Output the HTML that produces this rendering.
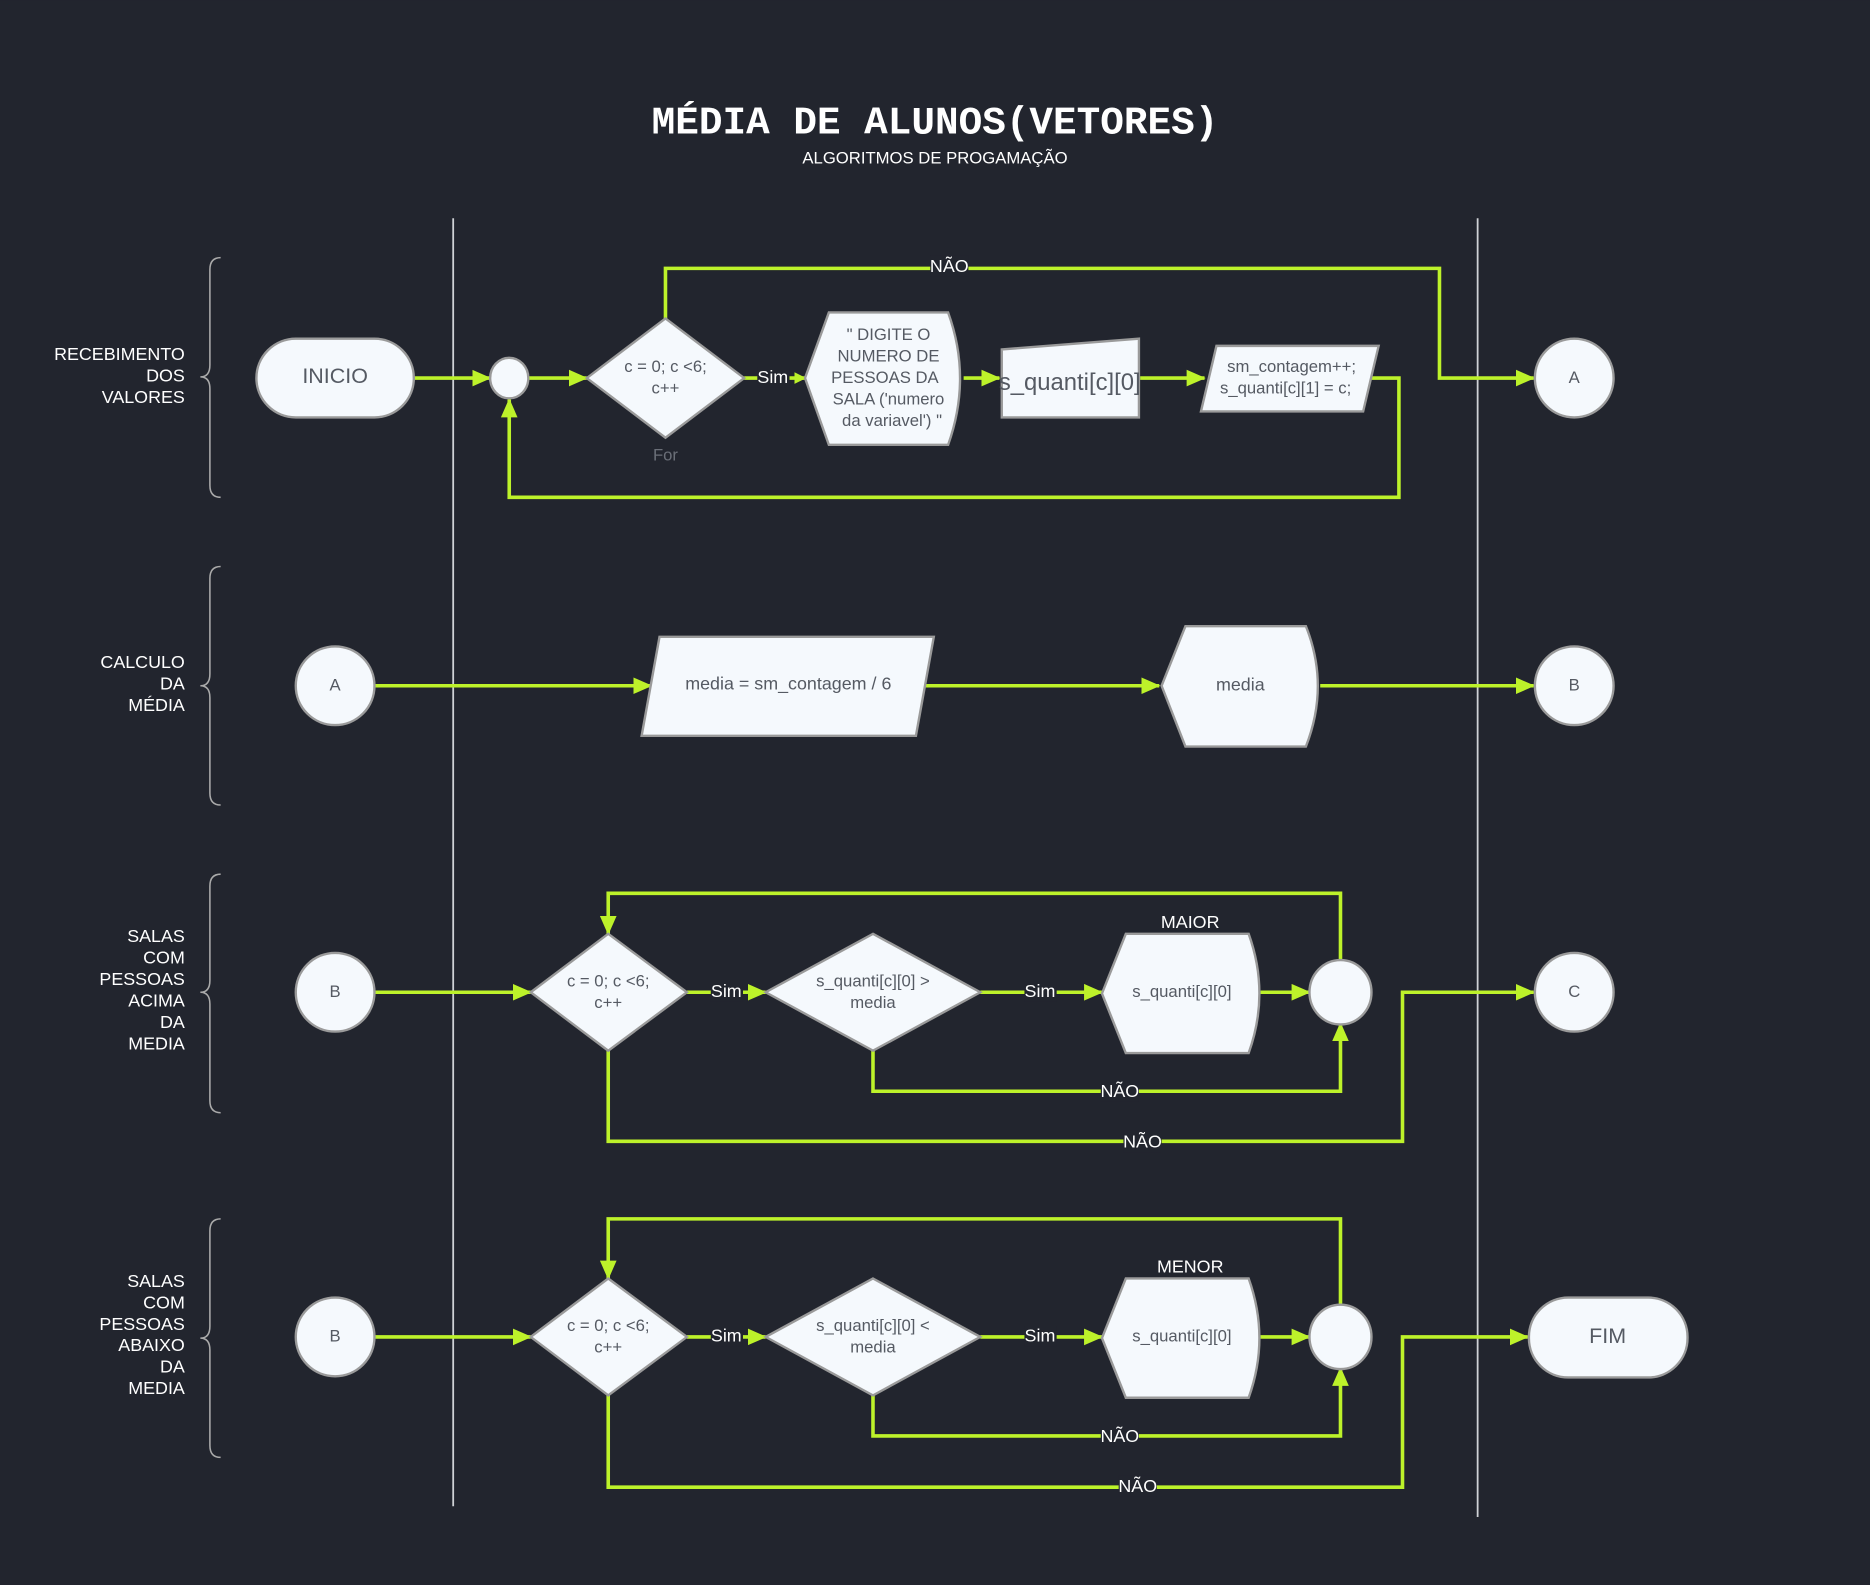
<!DOCTYPE html>
<html><head><meta charset="utf-8"><style>html,body{margin:0;padding:0;background:#22252e}svg{display:block}</style></head><body>
<svg width="1870" height="1585" viewBox="0 0 1568 1329" xmlns="http://www.w3.org/2000/svg" font-family="Liberation Sans, sans-serif">
<defs><marker id="a" markerWidth="10" markerHeight="10" refX="9" refY="5" orient="auto" markerUnits="userSpaceOnUse"><path d="M0,0 L10,5 L0,10 Z" fill="#bdf22a"/></marker>
<marker id="b" markerWidth="16" markerHeight="14" refX="15" refY="7" orient="auto" markerUnits="userSpaceOnUse"><path d="M0,0 L16,7 L0,14 Z" fill="#bdf22a"/></marker></defs>
<rect width="1568" height="1329" fill="#22252e"/>
<text x="784" y="112" text-anchor="middle" fill="#fff" font-family="Liberation Mono, monospace" font-weight="bold" font-size="33">MÉDIA DE ALUNOS(VETORES)</text>
<text x="784" y="137" text-anchor="middle" fill="#fff" font-size="14">ALGORITMOS DE PROGAMAÇÃO</text>
<g stroke="#cfd2d6" stroke-width="1.5"><line x1="380" y1="183" x2="380" y2="1263"/><line x1="1239" y1="183" x2="1239" y2="1272"/></g>
<g fill="none" stroke="#aaa" stroke-width="1.3">
<path d="M185,216 Q176,216 176,226 V306 Q176,316 168,316 Q176,316 176,326 V407 Q176,417 185,417"/>
<path d="M185,475 Q176,475 176,485 V565 Q176,575 168,575 Q176,575 176,585 V665 Q176,675 185,675"/>
<path d="M185,733 Q176,733 176,743 V822 Q176,832 168,832 Q176,832 176,842 V923 Q176,933 185,933"/>
<path d="M185,1022 Q176,1022 176,1032 V1112 Q176,1122 168,1122 Q176,1122 176,1132 V1212 Q176,1222 185,1222"/>
</g>
<g fill="#fff" font-size="15" text-anchor="end">
<text x="155" y="302">RECEBIMENTO</text><text x="155" y="320">DOS</text><text x="155" y="338">VALORES</text>
<text x="155" y="560">CALCULO</text><text x="155" y="578">DA</text><text x="155" y="596">MÉDIA</text>
<text x="155" y="790">SALAS</text><text x="155" y="808">COM</text><text x="155" y="826">PESSOAS</text><text x="155" y="844">ACIMA</text><text x="155" y="862">DA</text><text x="155" y="880">MEDIA</text>
<text x="155" y="1079">SALAS</text><text x="155" y="1097">COM</text><text x="155" y="1115">PESSOAS</text><text x="155" y="1133">ABAIXO</text><text x="155" y="1151">DA</text><text x="155" y="1169">MEDIA</text>
</g>
<!-- connectors -->
<g fill="none" stroke="#bdf22a" stroke-width="3">
<path d="M347,317 H411" marker-end="url(#b)"/>
<path d="M443,317 H492" marker-end="url(#b)"/>
<path d="M624,317 H675" marker-end="url(#a)"/>
<path d="M808,317 H838" marker-end="url(#b)"/>
<path d="M956,317 H1010" marker-end="url(#b)"/>
<path d="M1146,317 H1173 V417 H427 V335" marker-end="url(#b)"/>
<path d="M558,267 V225 H1207 V317 H1286" marker-end="url(#b)"/>
<path d="M314,575 H546" marker-end="url(#b)"/>
<path d="M775,575 H972" marker-end="url(#b)"/>
<path d="M1107,575 H1286" marker-end="url(#b)"/>
<path d="M314,832 H445" marker-end="url(#b)"/>
<path d="M576,832 H642" marker-end="url(#b)"/>
<path d="M822,832 H924" marker-end="url(#b)"/>
<path d="M1057,832 H1098" marker-end="url(#b)"/>
<path d="M1124,806 V749 H510 V783" marker-end="url(#b)"/>
<path d="M732,881 V915 H1124 V858" marker-end="url(#b)"/>
<path d="M510,881 V957 H1176 V832 H1286" marker-end="url(#b)"/>
<path d="M314,1121 H445" marker-end="url(#b)"/>
<path d="M576,1121 H642" marker-end="url(#b)"/>
<path d="M822,1121 H924" marker-end="url(#b)"/>
<path d="M1057,1121 H1098" marker-end="url(#b)"/>
<path d="M1124,1095 V1022 H510 V1072" marker-end="url(#b)"/>
<path d="M732,1170 V1204 H1124 V1147" marker-end="url(#b)"/>
<path d="M510,1170 V1247 H1176 V1121 H1281" marker-end="url(#b)"/>
</g>
<!-- edge labels -->
<g fill="#fff" font-size="15" text-anchor="middle">
<rect x="780" y="214" width="32" height="18" fill="#22252e"/><text x="796" y="228">NÃO</text>
<rect x="635" y="308" width="27" height="17" fill="#22252e"/><text x="648" y="321">Sim</text>
<rect x="596" y="823" width="27" height="17" fill="#22252e"/><text x="609" y="836">Sim</text>
<rect x="859" y="823" width="27" height="17" fill="#22252e"/><text x="872" y="836">Sim</text>
<rect x="923" y="906" width="32" height="18" fill="#22252e"/><text x="939" y="920">NÃO</text>
<rect x="942" y="948" width="32" height="18" fill="#22252e"/><text x="958" y="962">NÃO</text>
<text x="998" y="778">MAIOR</text>
<rect x="596" y="1112" width="27" height="17" fill="#22252e"/><text x="609" y="1125">Sim</text>
<rect x="859" y="1112" width="27" height="17" fill="#22252e"/><text x="872" y="1125">Sim</text>
<rect x="923" y="1195" width="32" height="18" fill="#22252e"/><text x="939" y="1209">NÃO</text>
<rect x="938" y="1237" width="32" height="18" fill="#22252e"/><text x="954" y="1251">NÃO</text>
<text x="998" y="1067">MENOR</text>
</g>
<!-- nodes -->
<g fill="#f5f9fd" stroke="#9a9a9a" stroke-width="2">
<rect x="215" y="284" width="132" height="66" rx="33"/>
<ellipse cx="427" cy="317" rx="16" ry="17"/>
<path d="M558,267 L624,317 L558,367 L492,317 Z"/>
<path d="M695,262 L795,262 Q815,317 795,373 L695,373 L675,317 Z"/>
<path d="M840,293 L955,284 L955,350 L840,350 Z"/>
<path d="M1020,290 L1156,290 L1143,345 L1007,345 Z"/>
<circle cx="1320" cy="317" r="33"/>
<circle cx="281" cy="575" r="33"/>
<path d="M553,534 L783,534 L768,617 L538,617 Z"/>
<path d="M994,525 L1095,525 Q1115,575 1095,626 L994,626 L974,575 Z"/>
<circle cx="1320" cy="575" r="33"/>
<circle cx="281" cy="832" r="33"/>
<path d="M510,783 L576,832 L510,881 L445,832 Z"/>
<path d="M732,783 L822,832 L732,881 L642,832 Z"/>
<path d="M944,783 L1047,783 Q1065,833 1047,883 L944,883 L924,833 Z"/>
<ellipse cx="1124" cy="832" rx="26" ry="27"/>
<circle cx="1320" cy="832" r="33"/>
<circle cx="281" cy="1121" r="33"/>
<path d="M510,1072 L576,1121 L510,1170 L445,1121 Z"/>
<path d="M732,1072 L822,1121 L732,1170 L642,1121 Z"/>
<path d="M944,1072 L1047,1072 Q1065,1122 1047,1172 L944,1172 L924,1122 Z"/>
<ellipse cx="1124" cy="1121" rx="26" ry="27"/>
<rect x="1282" y="1088" width="133" height="67" rx="33"/>
</g>
<g fill="#555a63" text-anchor="middle" font-size="14">
<text x="281" y="321" font-size="18">INICIO</text>
<text x="558" y="312">c = 0; c &lt;6;</text><text x="558" y="330">c++</text>
<text x="558" y="386" fill="#6b6f78">For</text>
<text x="745" y="285">" DIGITE  O</text><text x="745" y="303">NUMERO DE</text><text x="742" y="321">PESSOAS DA</text><text x="745" y="339">SALA ('numero</text><text x="748" y="357">da variavel') "</text>
<text x="897" y="327" font-size="20">s_quanti[c][0]</text>
<text x="1083" y="312">sm_contagem++;</text><text x="1078" y="330">s_quanti[c][1] = c;</text>
<text x="1320" y="321">A</text>
<text x="281" y="579">A</text>
<text x="661" y="578" font-size="15">media = sm_contagem / 6</text>
<text x="1040" y="579" font-size="15">media</text>
<text x="1320" y="579">B</text>
<text x="281" y="836">B</text>
<text x="510" y="827">c = 0; c &lt;6;</text><text x="510" y="845">c++</text>
<text x="732" y="827">s_quanti[c][0] &gt;</text><text x="732" y="845">media</text>
<text x="991" y="836">s_quanti[c][0]</text>
<text x="1320" y="836">C</text>
<text x="281" y="1125">B</text>
<text x="510" y="1116">c = 0; c &lt;6;</text><text x="510" y="1134">c++</text>
<text x="732" y="1116">s_quanti[c][0] &lt;</text><text x="732" y="1134">media</text>
<text x="991" y="1125">s_quanti[c][0]</text>
<text x="1348" y="1126" font-size="18">FIM</text>
</g>
</svg>
</body></html>
